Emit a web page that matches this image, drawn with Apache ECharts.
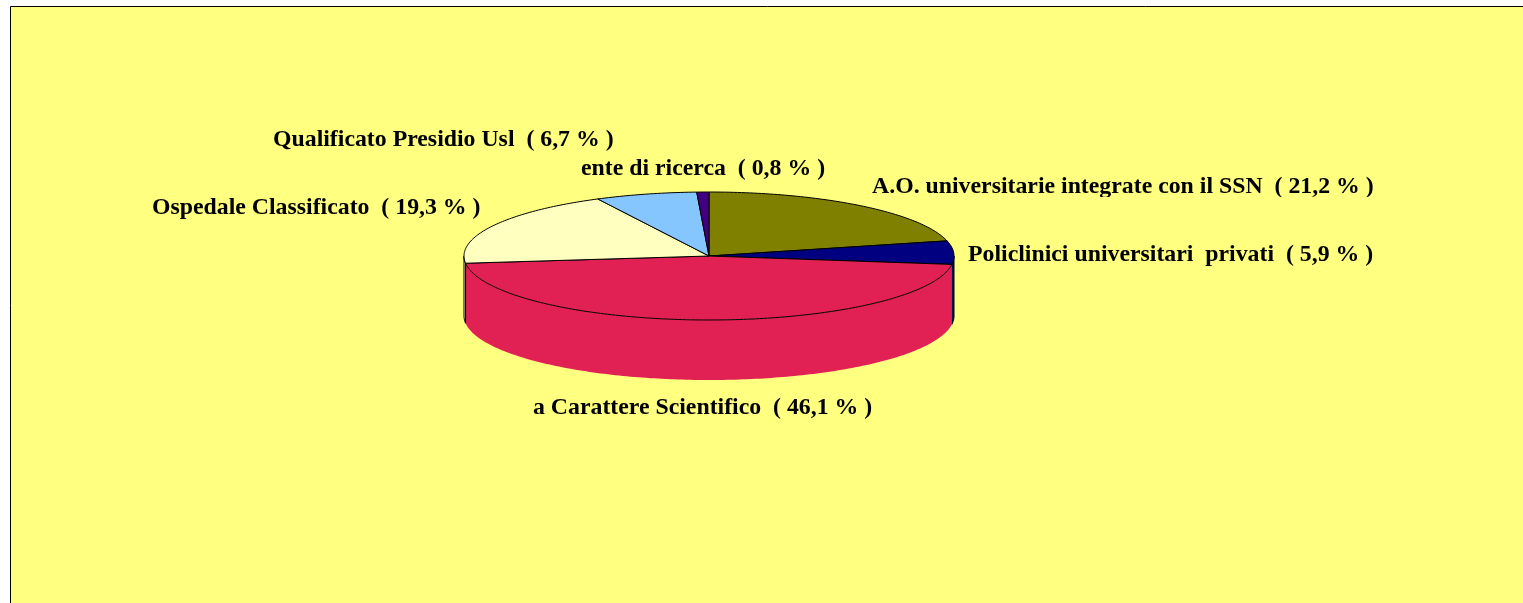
<!DOCTYPE html>
<html>
<head>
<meta charset="utf-8">
<title>Torta</title>
<style>
  html, body { margin: 0; padding: 0; background: #fff; }
  #chart { width: 1523px; height: 603px; }
</style>
<script src="https://cdn.jsdelivr.net/npm/echarts@6/dist/echarts.min.js"></script>
</head>
<body>
<div id="chart"></div>
<script>
const categories = [
  'A.O. universitarie integrate con il SSN',
  'Policlinici universitari  privati',
  'a Carattere Scientifico',
  'Ospedale Classificato',
  'Qualificato Presidio Usl',
  'ente di ricerca'
]
const values = [21.2, 5.9, 46.1, 19.3, 6.7, 0.8]
const colors = ['#808000', '#000080', '#e12054', '#ffffc0', '#86c6ff', '#400080']

// posizione delle etichette (sinistra, centro verticale)
const labelLeft = [872, 968, 533, 152, 273, 581]
const labelMiddle = [187, 255, 408, 208, 140, 169]

// geometria della torta
const cx = 709
const cy = 256
const rx = 245
const ry = 64
const depth = 60

const total = values.reduce((a, b) => a + b, 0)
let running = 0
const slices = values.map((v) => {
  const item = [running, running + v]
  running += v
  return item
})

function toAngle(v) {
  return echarts.number.linearMap(v, [0, total], [0, Math.PI * 2], true)
}

function rim(angle, drop) {
  return [cx + rx * Math.sin(angle), cy - ry * Math.cos(angle) + drop]
}

function arc(from, to, drop) {
  const steps = Math.max(2, Math.ceil((to - from) * 60))
  const pts = []
  for (let i = 0; i <= steps; i++) {
    pts.push(rim(from + (to - from) * i / steps, drop))
  }
  return pts
}

function renderWall(params, api) {
  const from = Math.max(toAngle(api.value(0)), Math.PI / 2)
  const to = Math.min(toAngle(api.value(1)), Math.PI * 1.5)
  if (to <= from) return null
  const isRed = params.dataIndex === 2
  return {
    type: 'polygon',
    shape: { points: arc(from, to, 0).concat(arc(from, to, depth).reverse()) },
    style: {
      fill: colors[params.dataIndex],
      stroke: isRed ? null : '#000',
      lineWidth: 1
    }
  }
}

function renderTop(params, api) {
  const from = toAngle(api.value(0))
  const to = toAngle(api.value(1))
  return {
    type: 'polygon',
    shape: { points: [[cx, cy]].concat(arc(from, to, 0)) },
    style: {
      fill: colors[params.dataIndex],
      stroke: '#000',
      lineWidth: 1,
      lineJoin: 'round'
    }
  }
}

function renderLabel(params, api) {
  const i = params.dataIndex
  const pct = values[i].toFixed(1).replace('.', ',')
  const el = {
    type: 'text',
    x: labelLeft[i],
    y: labelMiddle[i],
    style: {
      text: categories[i] + '  ( ' + pct + ' % )',
      fill: '#000',
      font: 'bold 23.8px "Liberation Serif"',
      align: 'left',
      verticalAlign: 'middle'
    }
  }
  // nell'originale la prima etichetta e' tagliata in basso
  if (i === 0) {
    el.clipPath = { type: 'rect', shape: { x: -10, y: -20, width: 560, height: 30 } }
  }
  return el
}

const chart = echarts.init(document.getElementById('chart'))
const data = categories.map((name, i) => ({ name, value: slices[i] }))

chart.setOption({
  backgroundColor: '#fff',
  animation: false,
  graphic: [{
    type: 'rect',
    z: -10,
    silent: true,
    shape: { x: 10.5, y: 6.5, width: 1700, height: 800 },
    style: { fill: '#ffff80', stroke: '#000', lineWidth: 1 }
  }],
  series: [
    { type: 'custom', coordinateSystem: 'none', silent: true, z: 2, renderItem: renderWall, data },
    { type: 'custom', coordinateSystem: 'none', silent: true, z: 3, renderItem: renderTop, data },
    { type: 'custom', coordinateSystem: 'none', silent: true, z: 4, renderItem: renderLabel, data }
  ]
})

window.addEventListener('resize', () => chart.resize())
</script>
</body>
</html>
